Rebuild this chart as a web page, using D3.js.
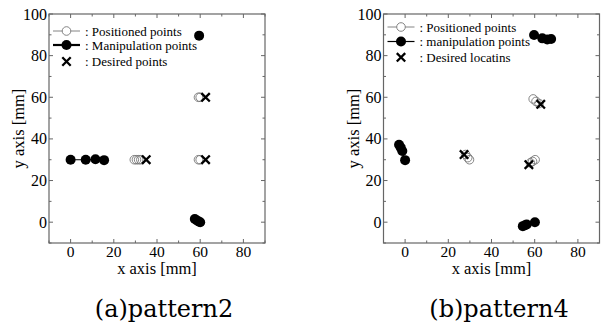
<!DOCTYPE html>
<html>
<head>
<meta charset="utf-8">
<script src="https://cdn.jsdelivr.net/npm/d3@7"></script>
<style>
  body { margin: 0; background: #fff; }
  svg { display: block; }
</style>
</head>
<body>
<svg id="chart" width="601" height="327"></svg>
<script>
// axis tick values
const majorTicks = [0, 20, 40, 60, 80, 100];
const xMajorTicks = [0, 20, 40, 60, 80];

// pattern2 (a)
const p2Manip = [
  [[0, 30], [7, 30], [11.5, 30.2], [15.5, 29.8]],
  [[59.5, 89.6]],
  [[57.5, 1.5], [58.5, 0.8], [59.3, 0.3], [60, 0]]
];
const p2Positioned = [[29.5, 30], [30.5, 30], [31.5, 30], [32.5, 30], [59.2, 60], [60, 60], [59.2, 30], [60, 30]];
const p2Desired = [[35, 30], [62.5, 60], [62.5, 30]];

// pattern4 (b)
const p4Manip = [
  [[-2.8, 37.2], [-2, 35.8], [-1.3, 34.2], [0, 29.8]],
  [[59.7, 89.9], [63.5, 88.3], [65.8, 87.8], [67.6, 88]],
  [[54.5, -1.9], [55.5, -1.5], [56.3, -1.1], [60.1, 0]]
];
const p4Positioned = [[28, 32.5], [29, 31], [29.8, 30], [59.3, 59.2], [60.6, 58], [62, 57], [58, 28.5], [59, 29.2], [60.2, 30]];
const p4Desired = [[27.3, 32.5], [62.8, 56.6], [57.3, 27.6]];

const legendP2 = ["Positioned points", "Manipulation points", "Desired points"];
const legendP4 = ["Positioned points", "manipulation points", "Desired locatins"];

const serif = "Liberation Serif";
const svg = d3.select("#chart").attr("font-family", serif);

function drawPanel(cfg) {
  const x = d3.scaleLinear().domain([-10, 90]).range([cfg.left, cfg.left + 216]);
  const y = d3.scaleLinear().domain([-10, 100]).range([243, 14]);
  const g = svg.append("g");

  // inward ticks on all four sides
  const frameColor = "#666";
  const tickG = g.append("g").attr("stroke", frameColor).attr("stroke-width", 1);
  d3.range(-10, 91, 10).forEach(v => {
    const len = v % 20 === 0 ? 4 : 2.5;
    tickG.append("line").attr("x1", x(v)).attr("x2", x(v)).attr("y1", 243).attr("y2", 243 - len);
    tickG.append("line").attr("x1", x(v)).attr("x2", x(v)).attr("y1", 14).attr("y2", 14 + len);
  });
  d3.range(-10, 101, 10).forEach(v => {
    const len = v % 20 === 0 ? 4 : 2.5;
    tickG.append("line").attr("y1", y(v)).attr("y2", y(v)).attr("x1", x(-10)).attr("x2", x(-10) + len);
    tickG.append("line").attr("y1", y(v)).attr("y2", y(v)).attr("x1", x(90)).attr("x2", x(90) - len);
  });
  g.append("rect")
    .attr("x", x(-10)).attr("y", y(100))
    .attr("width", x(90) - x(-10)).attr("height", y(-10) - y(100))
    .attr("fill", "none").attr("stroke", frameColor).attr("stroke-width", 1.2);

  // tick labels
  g.selectAll(".yl").data(majorTicks).enter().append("text")
    .attr("x", x(-10) - 2).attr("y", d => y(d) + 5.5)
    .attr("text-anchor", "end").attr("font-size", 16)
    .text(d => d);
  g.selectAll(".xl").data(xMajorTicks).enter().append("text")
    .attr("x", d => x(d)).attr("y", 257)
    .attr("text-anchor", "middle").attr("font-size", 15.5)
    .text(d => d);

  // axis titles
  g.append("text").attr("x", x(40)).attr("y", 273.5)
    .attr("text-anchor", "middle").attr("font-size", 16.5).text("x axis [mm]");
  g.append("text")
    .attr("transform", `translate(${x(-10) - 25},${y(45)}) rotate(-90)`)
    .attr("text-anchor", "middle").attr("font-size", 16.5).text("y axis [mm]");

  // manipulation lines + points
  const line = d3.line().x(d => x(d[0])).y(d => y(d[1]));
  cfg.manip.forEach(grp => {
    g.append("path").attr("d", line(grp)).attr("fill", "none")
      .attr("stroke", "#000").attr("stroke-width", 1.2);
  });
  g.selectAll(".mp").data(cfg.manip.flat()).enter().append("circle")
    .attr("cx", d => x(d[0])).attr("cy", d => y(d[1])).attr("r", 5).attr("fill", "#000");

  // positioned points
  g.selectAll(".pp").data(cfg.positioned).enter().append("circle")
    .attr("cx", d => x(d[0])).attr("cy", d => y(d[1])).attr("r", 4.3)
    .attr("fill", "none").attr("stroke", "#777").attr("stroke-width", 0.9);

  // desired points
  const s = 4.2;
  cfg.desired.forEach(d => {
    const cx = x(d[0]), cy = y(d[1]);
    g.append("path")
      .attr("d", `M${cx - s},${cy - s}L${cx + s},${cy + s}M${cx - s},${cy + s}L${cx + s},${cy - s}`)
      .attr("stroke", "#000").attr("stroke-width", 2.3);
  });

  // legend
  const lx0 = cfg.left + 4, lx1 = cfg.left + 31, lcx = (lx0 + lx1) / 2;
  const rows = cfg.legendY;
  g.append("line").attr("x1", lx0).attr("x2", lx1).attr("y1", rows[0]).attr("y2", rows[0])
    .attr("stroke", "#777").attr("stroke-width", 0.9);
  g.append("circle").attr("cx", lcx).attr("cy", rows[0]).attr("r", 4.3)
    .attr("fill", "#fff").attr("stroke", "#777").attr("stroke-width", 0.9);
  g.append("line").attr("x1", lx0).attr("x2", lx1).attr("y1", rows[1]).attr("y2", rows[1])
    .attr("stroke", "#000").attr("stroke-width", cfg.legendLineW);
  g.append("circle").attr("cx", lcx).attr("cy", rows[1]).attr("r", 5).attr("fill", "#000");
  g.append("path")
    .attr("d", `M${lcx - s},${rows[2] - s}L${lcx + s},${rows[2] + s}M${lcx - s},${rows[2] + s}L${lcx + s},${rows[2] - s}`)
    .attr("stroke", "#000").attr("stroke-width", 2.3);
  cfg.legend.forEach((t, i) => {
    g.append("text").attr("x", lx1 + 5).attr("y", rows[i] + 4.5)
      .attr("font-size", 13).text(": " + t);
  });

  // panel caption
  g.append("text").attr("font-family", "DejaVu Serif")
    .attr("x", cfg.captionX).attr("y", 317)
    .attr("text-anchor", "middle").attr("font-size", 24)
    .text(cfg.caption);
}

drawPanel({
  left: 49, manip: p2Manip, positioned: p2Positioned, desired: p2Desired,
  legend: legendP2, legendY: [31, 45, 61.5], legendLineW: 2.2,
  caption: "(a)pattern2", captionX: 164
});
drawPanel({
  left: 383.5, manip: p4Manip, positioned: p4Positioned, desired: p4Desired,
  legend: legendP4, legendY: [27, 41.5, 57.3], legendLineW: 1.2,
  caption: "(b)pattern4", captionX: 499
});
</script>
</body>
</html>
